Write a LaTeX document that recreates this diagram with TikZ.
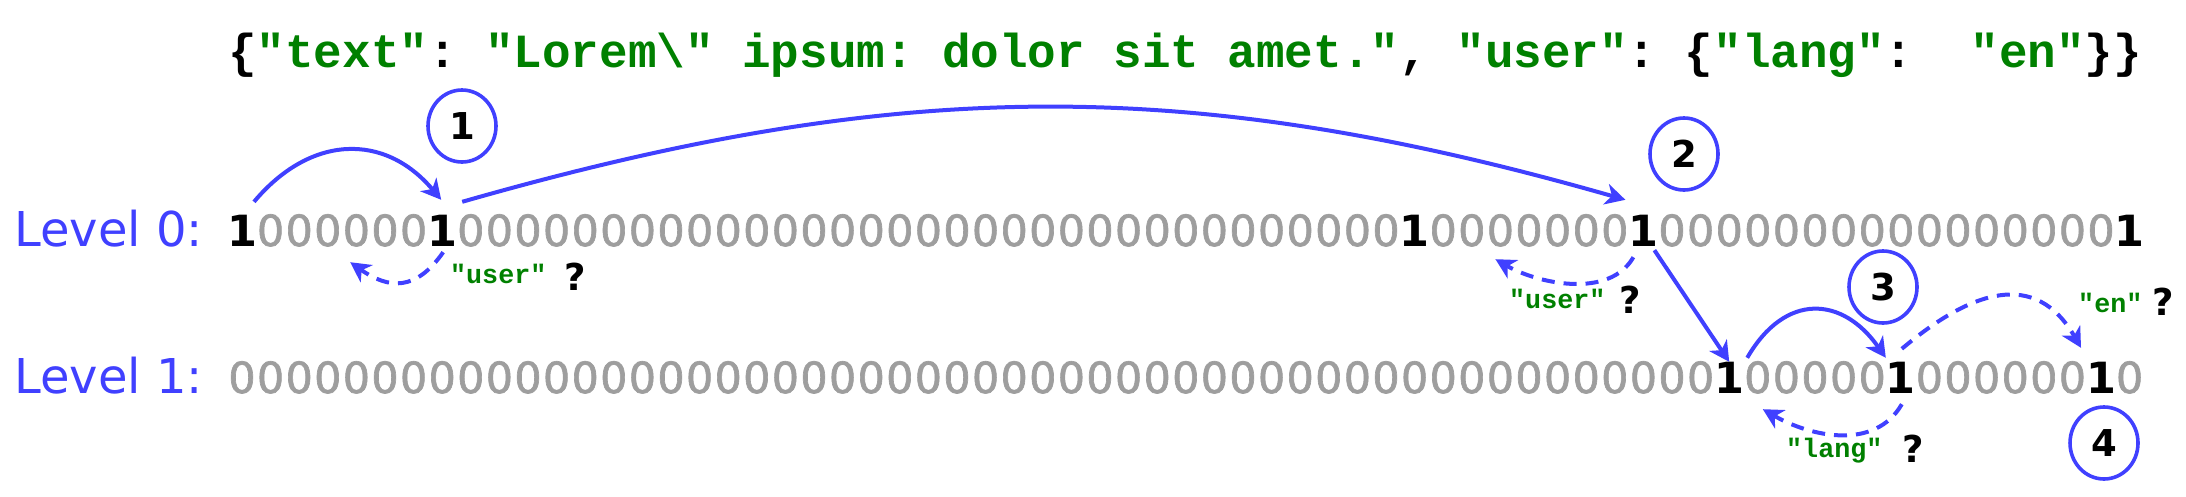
\documentclass[tikz,border=0pt]{standalone}
\usepackage{fontspec}
\usetikzlibrary{arrows.meta,shapes.geometric}
\newfontfamily\jsonfont{Liberation Mono}
\newfontfamily\dvfont{DejaVu Sans}
\newfontfamily\zerofont[FakeBold=1.5]{DejaVu Sans}
\definecolor{jgreen}{RGB}{0,128,0}
\definecolor{lblue}{RGB}{64,64,255}
\definecolor{bgray}{RGB}{158,158,158}
\tikzset{
  bitbase/.style={anchor=base, inner sep=0pt, text height=31pt, text depth=0pt, minimum width=28.6pt},
  zerobit/.style={bitbase, text=bgray, font=\zerofont\fontsize{43pt}{43pt}\selectfont},
  onebit/.style={bitbase, text=black, font=\dvfont\bfseries\fontsize{43pt}{43pt}\selectfont},
  levellabel/.style={anchor=base west, inner sep=0pt, text=lblue, font=\dvfont\fontsize{48pt}{48pt}\selectfont},
  jsontext/.style={anchor=base west, inner sep=0pt, font=\jsonfont\bfseries\fontsize{47.6pt}{50pt}\selectfont},
  keylabel/.style={anchor=base west, inner sep=0pt, text=jgreen, font=\jsonfont\bfseries\fontsize{26.7pt}{28pt}\selectfont},
  qmark/.style={anchor=base west, inner sep=0pt, font=\dvfont\bfseries\fontsize{37pt}{37pt}\selectfont},
  stepcircle/.style={ellipse, draw=lblue, line width=3.6pt, minimum width=68pt, minimum height=72pt, inner sep=0pt, font=\dvfont\bfseries\fontsize{37pt}{37pt}\selectfont},
  jump/.style={draw=lblue, line width=4pt, -{Stealth[length=20pt,width=21pt,inset=6pt]}},
  probe/.style={jump, dash pattern=on 13pt off 9pt}
}
\begin{document}
\begin{tikzpicture}[x=1pt,y=1pt]
\useasboundingbox (0,0) rectangle (2186,-496);
% JSON text
\node[jsontext] (json) at (228,-67) {\frenchspacing\{\textcolor{jgreen}{"text"}: \textcolor{jgreen}{"Lorem\textbackslash" ipsum: dolor sit amet."}, \textcolor{jgreen}{"user"}: \{\textcolor{jgreen}{"lang"}:\ \ \textcolor{jgreen}{"en"}\}\}};
% level labels
\node[levellabel] (lv0) at (14,-246) {Level 0:};
\node[levellabel] (lv1) at (14,-393) {Level 1:};
% bits
\foreach \i in {0,...,66}{
  \pgfmathtruncatemacro{\one}{(\i==0)||(\i==7)||(\i==41)||(\i==49)||(\i==66)}
  \ifnum\one=1
    \node[onebit] (a\i) at (242+28.6*\i,-246) {1};
  \else
    \node[zerobit] (a\i) at (242+28.6*\i,-246) {0};
  \fi
}
\foreach \i in {0,...,66}{
  \pgfmathtruncatemacro{\one}{(\i==52)||(\i==58)||(\i==65)}
  \ifnum\one=1
    \node[onebit] (b\i) at (242+28.6*\i,-393) {1};
  \else
    \node[zerobit] (b\i) at (242+28.6*\i,-393) {0};
  \fi
}
% step circles
\node[stepcircle] (c1) at (462,-126) {1};
\node[stepcircle] (c2) at (1684,-154) {2};
\node[stepcircle] (c3) at (1883,-287) {3};
\node[stepcircle] (c4) at (2104,-443) {4};
% key labels
\node[keylabel] (k1) at (450,-283) {"user"};
\node[qmark] (q1) at (564,-290) {?};
\node[keylabel] (k2) at (1509,-308) {"user"};
\node[qmark] (q2) at (1619,-313) {?};
\node[keylabel] (k3) at (1786,-457) {"lang"};
\node[qmark] (q3) at (1902,-462) {?};
\node[keylabel] (k4) at (2078,-312) {"en"};
\node[qmark] (q4) at (2152,-315) {?};
% jumps
\draw[jump] ([shift={(12,13)}]a0.north) to[out=50,in=130,looseness=1.2] ([shift={(-1,15)}]a7.north);
\draw[jump] ([shift={(20,13)}]a7.north) .. controls ([shift={(457,138)}]a7.north) and ([shift={(-455,140)}]a49.north) .. ([shift={(-18,15)}]a49.north);
\draw[probe] ([shift={(1,-6)}]a7.south) to[out=-125,in=-35,looseness=1.3] ([shift={(-92,-16)}]a7.south);
\draw[probe] ([shift={(-10,-11)}]a49.south) to[out=-120,in=-30,looseness=0.9] ([shift={(-148,-13)}]a49.south);
\draw[jump] ([shift={(11,-4)}]a49.south) -- (b52.north);
\draw[jump] ([shift={(18,4)}]b52.north) to[out=60,in=125,looseness=1.4] ([shift={(-15,4)}]b58.north);
\draw[probe] ([shift={(1,13)}]b58.north) to[out=40,in=120,looseness=1.3] ([shift={(-20,14)}]b65.north);
\draw[probe] ([shift={(1,-11)}]b58.south) to[out=-120,in=-30] ([shift={(-138,-16)}]b58.south);
\end{tikzpicture}
\end{document}
